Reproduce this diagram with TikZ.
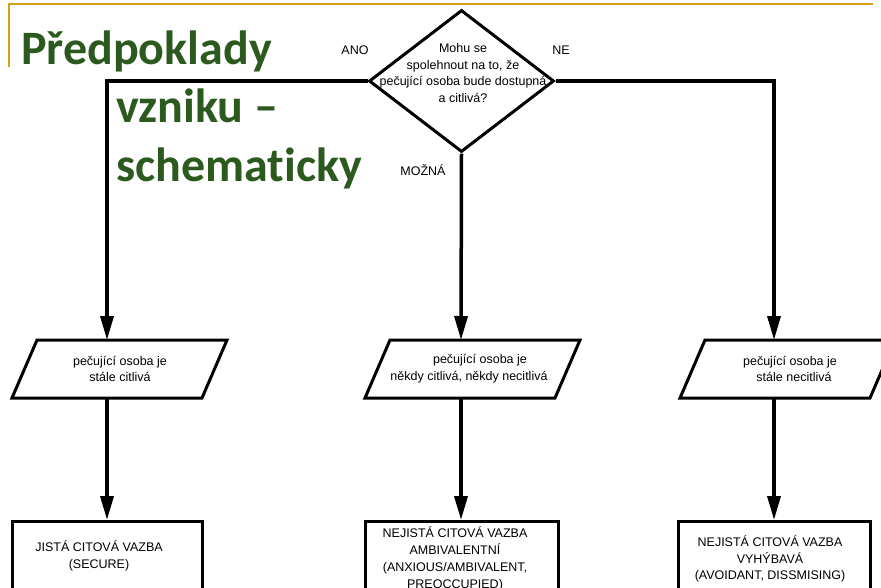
\documentclass[tikz,border=0pt]{standalone}
\usepackage{fontspec}
\setmainfont{Liberation Sans}
\newfontfamily\titlefont[Ligatures=NoCommon]{Carlito}
\usetikzlibrary{arrows.meta,shapes.geometric}
\definecolor{framegold}{RGB}{212,160,23}
\definecolor{tgreen}{RGB}{44,90,30}
\begin{document}
\begin{tikzpicture}[x=1pt,y=-1pt,
  conn/.style={line width=3.5pt,-{Triangle[length=24pt,width=13pt]}},
  outline/.style={draw,line width=3pt,line join=miter},
  txt/.style={font=\fontsize{12.5}{16.8}\selectfont,align=center,inner sep=0pt},
  ttl/.style={font=\titlefont\bfseries\fontsize{48}{48}\selectfont,text=tgreen,inner sep=0pt,anchor=base west}]
\useasboundingbox (0,0) rectangle (881,587);
\clip (0,0) rectangle (881,587);
\fill[white] (0,0) rectangle (881,587);
% frame
\draw[framegold,line width=1.6pt] (9,67) -- (9,4) -- (873,4);
% decision
\node[diamond,outline,minimum width=185pt,minimum height=142pt,inner sep=0pt] (d) at (461.5,81) {};
\node[txt] (dq) at (463,73) {Mohu se\\spolehnout na to, že\\pečující osoba bude dostupná\\a citlivá?};
\node[txt] (ano) at (355,50) {ANO};
\node[txt] (ne) at (561,50) {NE};
\node[txt] (mozna) at (423,170) {MOŽNÁ};
% parallelograms
\draw[outline] (37,340) -- (227,340) -- (202,398) -- (12,398) -- cycle;
\draw[outline] (390,340) -- (580,340) -- (555,398) -- (365,398) -- cycle;
\draw[outline] (705,340) -- (895,340) -- (870,398) -- (680,398) -- cycle;
\coordinate (p1t) at (107,340); \coordinate (p1b) at (107,398);
\coordinate (p2t) at (461,340); \coordinate (p2b) at (461,398);
\coordinate (p3t) at (774,340); \coordinate (p3b) at (774,398);
\node[txt] (p1) at (120,369) {pečující osoba je\\stále citlivá};
\node[txt] (p2) at (469,369) {\hspace*{22pt}pečující osoba je\\někdy citlivá, někdy necitlivá};
\node[txt] (p3) at (790,369) {pečující osoba je\\\hspace*{8pt}stále necitlivá};
% result boxes
\node[outline,minimum width=190pt,minimum height=100pt,anchor=north,inner sep=0pt] (b1) at (107,520) {};
\node[outline,minimum width=193pt,minimum height=100pt,anchor=north,inner sep=0pt] (b2) at (461.5,520) {};
\node[outline,minimum width=192pt,minimum height=100pt,anchor=north,inner sep=0pt] (b3) at (774,520) {};
\node[txt] (t1) at (99,556) {JISTÁ CITOVÁ VAZBA\\(SECURE)};
\node[txt] (t2) at (455,559) {NEJISTÁ CITOVÁ VAZBA\\AMBIVALENTNÍ\\(ANXIOUS/AMBIVALENT,\\PREOCCUPIED)};
\node[txt] (t3) at (770,559) {NEJISTÁ CITOVÁ VAZBA\\VYHÝBAVÁ\\(AVOIDANT, DISSMISING)};
% connectors
\draw[conn] (d.west) -| (p1t);
\draw[conn] (d.south) -- (p2t);
\draw[conn] (d.east) -| (p3t);
\draw[conn] (p1b) -- (b1.north);
\draw[conn] (p2b) -- (b2.north -| p2b);
\draw[conn] (p3b) -- (b3.north);
% title
\node[ttl] (h1) at (21,64) {Předpoklady};
\node[ttl] (h2) at (116,122) {vzniku –};
\node[ttl] (h3) at (116,181) {schematicky};
\end{tikzpicture}
\end{document}
